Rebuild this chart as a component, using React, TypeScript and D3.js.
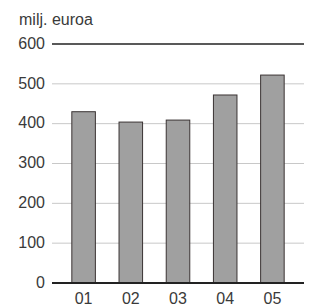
import React from "react";
import * as d3 from "d3";

const categories = ["01", "02", "03", "04", "05"];
const values = [430, 404, 409, 472, 522];
const yTicks = [0, 100, 200, 300, 400, 500, 600];
const unitLabel = "milj. euroa";

export default function App() {
    const width = 312;
    const height = 307;

    const x = d3.scaleBand<string>().domain(categories).range([60, 296]).paddingInner(0.48).paddingOuter(0.24);
    const y = d3.scaleLinear().domain([0, 600]).range([283, 44]);

    const left = 52;
    const right = 304;
    const font = "Liberation Sans, Arial, sans-serif";
    const textColor = "#3a3a3a";

    return (
        <svg
            width={width}
            height={height}
            style={{ position: "absolute", left: 0, top: 0, background: "#fff" }}
        >
            <text x={19} y={24.5} fontSize={16} fill={textColor} fontFamily={font}>
                {unitLabel}
            </text>

            {/* gridlines + tick labels */}
            {yTicks.map((t) => (
                <g key={t}>
                    {t !== 0 && t !== 600 && (
                        <line x1={left} x2={right} y1={y(t)} y2={y(t)} stroke="#c8c8c8" strokeWidth={1} />
                    )}
                    <text
                        x={45}
                        y={y(t)}
                        dy="0.3em"
                        textAnchor="end"
                        fontSize={16}
                        fill={textColor}
                        fontFamily={font}
                    >
                        {t}
                    </text>
                </g>
            ))}
            <line x1={left} x2={right} y1={y(600)} y2={y(600)} stroke="#222" strokeWidth={1.5} />

            {/* bars */}
            {categories.map((c, i) => (
                <rect
                    key={c}
                    x={x(c)! + 0.5}
                    y={y(values[i])}
                    width={x.bandwidth() - 1}
                    height={y(0) - y(values[i])}
                    fill="#a0a0a0"
                    stroke="#3a3333"
                    strokeWidth={1}
                />
            ))}

            <line x1={left} x2={right} y1={y(0)} y2={y(0)} stroke="#222" strokeWidth={2} />

            {categories.map((c) => (
                <text
                    key={c}
                    x={x(c)! + x.bandwidth() / 2}
                    y={304}
                    textAnchor="middle"
                    fontSize={16}
                    fill={textColor}
                    fontFamily={font}
                >
                    {c}
                </text>
            ))}
        </svg>
    );
}
